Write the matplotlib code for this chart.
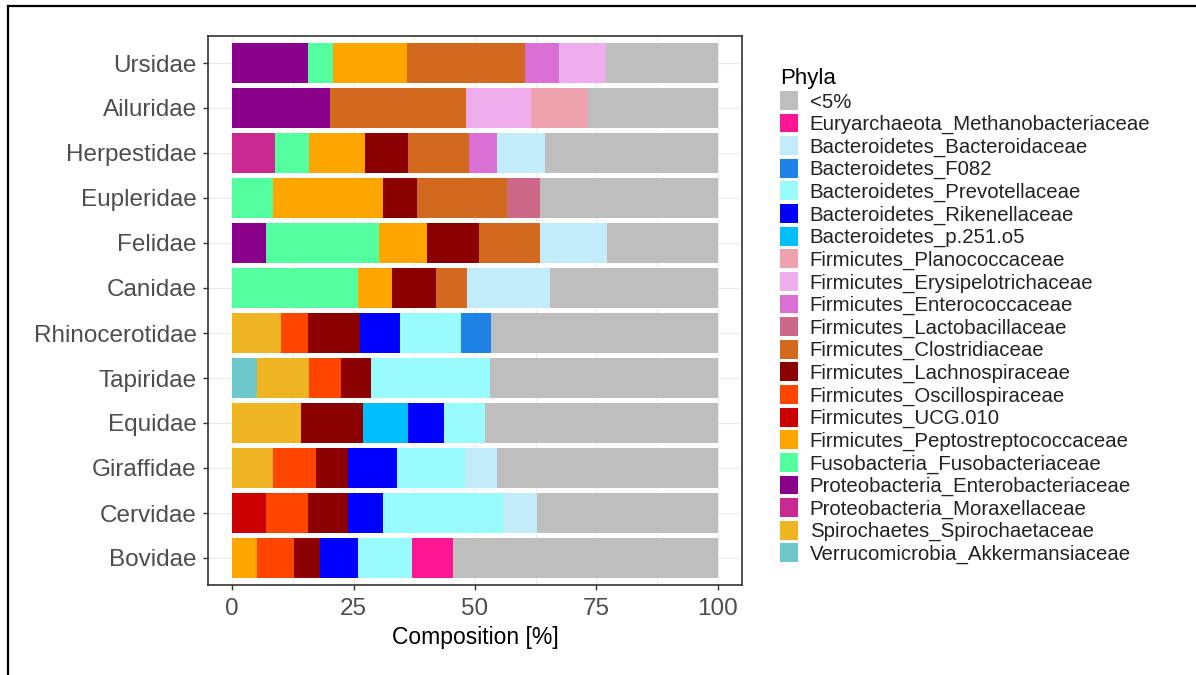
import numpy as np
import matplotlib
matplotlib.use("Agg")
import matplotlib.pyplot as plt
from matplotlib.patches import Patch
from matplotlib.lines import Line2D

plt.rcParams['font.family'] = ['Liberation Sans', 'DejaVu Sans']

# host families, top to bottom
families = ['Ursidae', 'Ailuridae', 'Herpestidae', 'Eupleridae', 'Felidae', 'Canidae',
            'Rhinocerotidae', 'Tapiridae', 'Equidae', 'Giraffidae', 'Cervidae', 'Bovidae']

# composition [%] per taxon, one value per family (same order as families)
other = [23.1, 26.8, 35.6, 36.7, 22.8, 34.6, 46.7, 47.0, 48.0, 45.4, 37.3, 54.6]
methanobacteriaceae = [0, 0, 0, 0, 0, 0, 0, 0, 0, 0, 0, 8.3]
bacteroidaceae = [0, 0, 9.8, 0, 13.9, 17.0, 0, 0, 0, 6.7, 6.9, 0]
f082 = [0, 0, 0, 0, 0, 0, 6.2, 0, 0, 0, 0, 0]
prevotellaceae = [0, 0, 0, 0, 0, 0, 12.5, 24.4, 8.4, 14.0, 24.7, 11.1]
rikenellaceae = [0, 0, 0, 0, 0, 0, 8.3, 0, 7.3, 10.1, 7.3, 7.9]
p251o5 = [0, 0, 0, 0, 0, 0, 0, 0, 9.4, 0, 0, 0]
planococcaceae = [0, 11.6, 0, 0, 0, 0, 0, 0, 0, 0, 0, 0]
erysipelotrichaceae = [9.5, 13.5, 0, 0, 0, 0, 0, 0, 0, 0, 0, 0]
enterococcaceae = [7.2, 0, 5.9, 0, 0, 0, 0, 0, 0, 0, 0, 0]
lactobacillaceae = [0, 0, 0, 6.8, 0, 0, 0, 0, 0, 0, 0, 0]
clostridiaceae = [24.2, 28.0, 12.4, 18.4, 12.4, 6.5, 0, 0, 0, 0, 0, 0]
lachnospiraceae = [0, 0, 9.0, 7.1, 10.8, 9.0, 10.7, 6.2, 12.8, 6.5, 8.3, 5.4]
oscillospiraceae = [0, 0, 0, 0, 0, 0, 5.6, 6.5, 0, 9.0, 8.6, 7.7]
ucg010 = [0, 0, 0, 0, 0, 0, 0, 0, 0, 0, 6.9, 0]
peptostreptococcaceae = [15.3, 0, 11.4, 22.7, 9.9, 6.9, 0, 0, 0, 0, 0, 5.0]
fusobacteriaceae = [5.2, 0, 7.0, 8.3, 23.3, 26.0, 0, 0, 0, 0, 0, 0]
enterobacteriaceae = [15.5, 20.1, 0, 0, 6.9, 0, 0, 0, 0, 0, 0, 0]
moraxellaceae = [0, 0, 8.9, 0, 0, 0, 0, 0, 0, 0, 0, 0]
spirochaetaceae = [0, 0, 0, 0, 0, 0, 10.0, 10.9, 14.1, 8.3, 0, 0]
akkermansiaceae = [0, 0, 0, 0, 0, 0, 0, 5.0, 0, 0, 0, 0]

# legend order (ggplot stacks the first level at the right end)
taxa = ['<5%', 'Euryarchaeota_Methanobacteriaceae', 'Bacteroidetes_Bacteroidaceae',
        'Bacteroidetes_F082', 'Bacteroidetes_Prevotellaceae', 'Bacteroidetes_Rikenellaceae',
        'Bacteroidetes_p.251.o5', 'Firmicutes_Planococcaceae', 'Firmicutes_Erysipelotrichaceae',
        'Firmicutes_Enterococcaceae', 'Firmicutes_Lactobacillaceae', 'Firmicutes_Clostridiaceae',
        'Firmicutes_Lachnospiraceae', 'Firmicutes_Oscillospiraceae', 'Firmicutes_UCG.010',
        'Firmicutes_Peptostreptococcaceae', 'Fusobacteria_Fusobacteriaceae',
        'Proteobacteria_Enterobacteriaceae', 'Proteobacteria_Moraxellaceae',
        'Spirochaetes_Spirochaetaceae', 'Verrucomicrobia_Akkermansiaceae']
values = [other, methanobacteriaceae, bacteroidaceae, f082, prevotellaceae, rikenellaceae,
          p251o5, planococcaceae, erysipelotrichaceae, enterococcaceae, lactobacillaceae,
          clostridiaceae, lachnospiraceae, oscillospiraceae, ucg010, peptostreptococcaceae,
          fusobacteriaceae, enterobacteriaceae, moraxellaceae, spirochaetaceae, akkermansiaceae]
colors = ['#BEBEBE', '#FF1493', '#C2ECFA', '#1E82E6', '#98FCFF', '#0000FF',
          '#00BFFF', '#EEA2AD', '#EEAEEE', '#DA70D6', '#CD6889', '#D2691E',
          '#8B0000', '#FF4500', '#CD0000', '#FFA500', '#54FF9F',
          '#8B008B', '#C8288F', '#EEB422', '#6CC8CB']

fig = plt.figure(figsize=(11.96, 6.75), dpi=100)
ax = fig.add_axes([208 / 1196, 1 - 585 / 675, 534 / 1196, 549 / 675])

ypos = np.arange(len(families))[::-1]
left = np.zeros(len(families))
for name, vals, col in list(zip(taxa, values, colors))[::-1]:
    vals = np.array(vals, dtype=float)
    ax.barh(ypos, vals, left=left, height=0.9, color=col, linewidth=0, zorder=2)
    left += vals

ax.set_xlim(-5, 105)
ax.set_ylim(-0.6, len(families) - 0.4)
ax.set_xticks([0, 25, 50, 75, 100])
ax.set_xticks([12.5, 37.5, 62.5, 87.5], minor=True)
ax.set_yticks(ypos)
ax.set_yticklabels(families)
ax.tick_params(axis='both', which='major', length=3.6, width=1, color='#333333',
               labelsize=17.5, labelcolor='#4D4D4D')
ax.tick_params(axis='y', which='major', pad=4.5)
ax.tick_params(axis='x', which='major', pad=6)
ax.tick_params(axis='x', which='minor', length=0)
ax.grid(True, which='both', color='#EBEBEB', linewidth=0.8, zorder=0)
ax.set_axisbelow(True)
for sp in ax.spines.values():
    sp.set_color('#333333')
    sp.set_linewidth(1.2)
ax.set_xlabel('Composition [%]', fontsize=16.5, color='black', labelpad=4)

handles = [Patch(facecolor=c, edgecolor='none') for c in colors]
leg = fig.legend(handles, taxa, loc='upper left', bbox_to_anchor=(770 / 1196, 1 - 58 / 675),
                 frameon=False, title='Phyla', fontsize=14.7, title_fontsize=16,
                 handlelength=0.85, handleheight=1.05, labelspacing=0.095, handletextpad=0.6,
                 borderpad=0, alignment='left')
for t in leg.get_texts():
    t.set_color('#222222')

# outer frame (left and top edges)
fig.add_artist(Line2D([8 / 1196, 8 / 1196], [0, 1 - 6 / 675], color='black', linewidth=1.6))
fig.add_artist(Line2D([8 / 1196, 1], [1 - 6 / 675, 1 - 6 / 675], color='black', linewidth=1.6))

fig.savefig('out.png', dpi=100)
